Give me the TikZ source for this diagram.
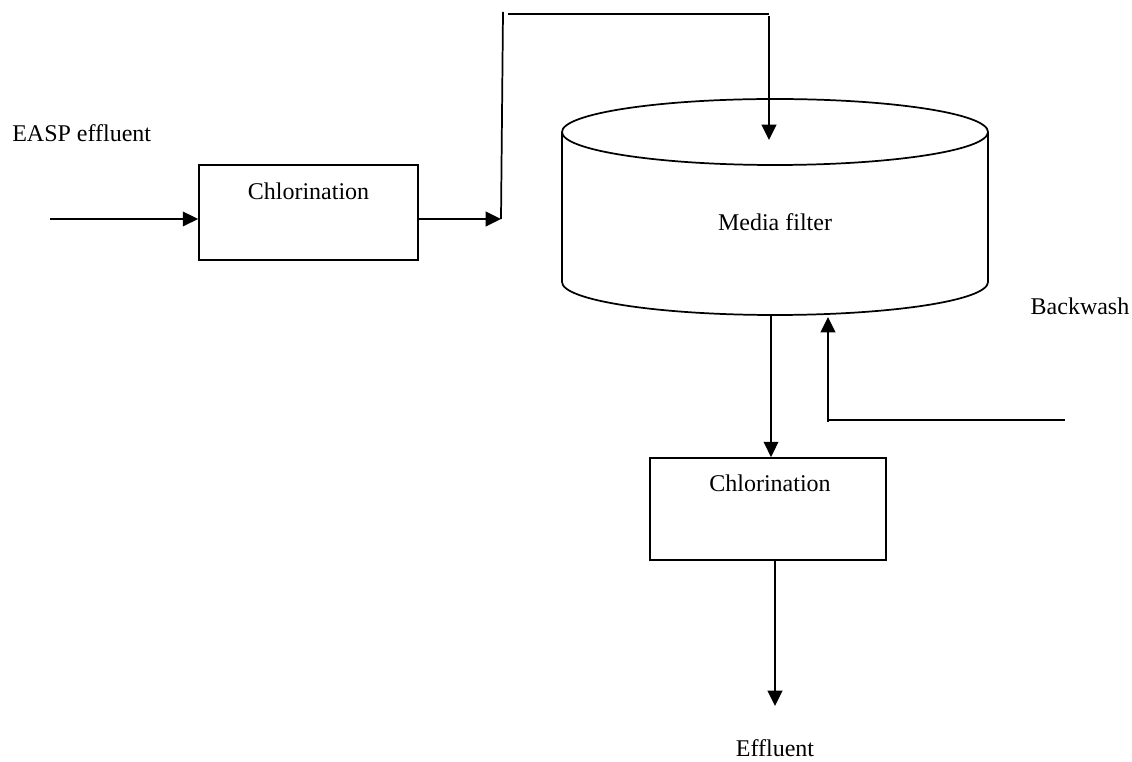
\documentclass[tikz,border=0pt]{standalone}
\usepackage{fontspec}
\setmainfont{Liberation Serif}
\usetikzlibrary{arrows.meta}
\begin{document}
\begin{tikzpicture}[x=0.75pt,y=-0.75pt,
  pipe/.style={line width=1.3pt},
  arr/.style={pipe,-{Triangle[length=11.5pt,width=11pt]}},
  box/.style={draw,line width=1.3pt,inner sep=0pt},
  lbl/.style={inner sep=0pt,font=\fontsize{18}{20}\selectfont}]
\useasboundingbox (0,0) rectangle (1132,762);
% labels
\node[lbl,anchor=west] (easp) at (12,133) {EASP effluent};
\node[lbl] (bwl) at (1080,306) {Backwash};
\node[lbl] (effl) at (775,748) {Effluent};
% first chlorination
\node[box,minimum width=164.25pt,minimum height=71.25pt] (c1) at (308.5,212.5) {};
\node[lbl] (c1t) at (308.5,191) {Chlorination};
% media filter (cylinder)
\coordinate (ftl) at (562,132);
\coordinate (ftr) at (988,132);
\coordinate (fbl) at (562,282);
\coordinate (fbr) at (988,282);
\coordinate (fc) at (775,132);
\draw[pipe] (fc) ellipse [x radius=159.75pt, y radius=24.75pt];
\draw[pipe] (ftl) -- (fbl) arc[start angle=180,end angle=360,x radius=159.75pt,y radius=24.75pt] -- (ftr);
\node[lbl] (mf) at (775,222) {Media filter};
% second chlorination
\node[box,minimum width=177pt,minimum height=76.5pt] (c2) at (768,509) {};
\node[lbl] (c2t) at (770,483) {Chlorination};
% connectors
\coordinate (inA) at (50,219);
\draw[arr] (inA) -- (inA -| c1.west);
\coordinate (j1) at (501,219);
\draw[arr] (c1.east |- j1) -- (j1);
\coordinate (j2) at (503,12);
\draw[pipe] (j1) -- (j2);
\coordinate (j3) at (508,14);
\coordinate (j4) at (769,14);
\draw[pipe] (j3) -- (j4);
\coordinate (fin) at (769,140);
\draw[arr] (769,16) -- (fin);
\coordinate (fb) at (771,315);
\draw[arr] (fb) -- (fb |- c2.north);
\coordinate (bw1) at (1065,420);
\coordinate (bw2) at (829,420);
\coordinate (bw3) at (828,317);
\draw[pipe] (bw1) -- (bw2);
\draw[arr] (828,422) -- (bw3);
\coordinate (out) at (775,706);
\draw[arr] (out |- c2.south) -- (out);
\end{tikzpicture}
\end{document}
